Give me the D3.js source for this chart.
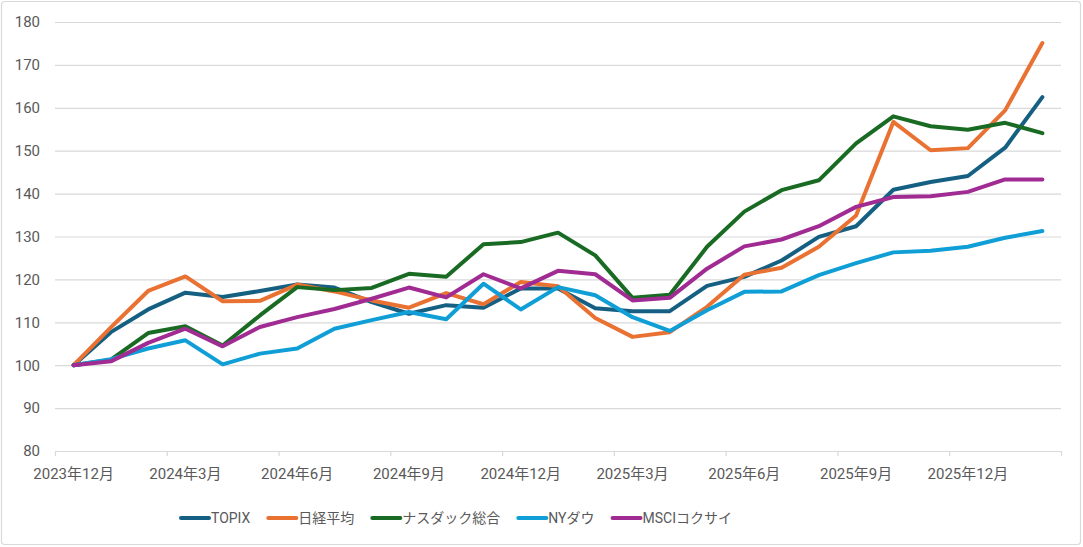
<!DOCTYPE html>
<html><head><meta charset="utf-8">
<script src="https://cdn.jsdelivr.net/npm/d3@7"></script>
<style>
html,body{margin:0;padding:0;background:#fff;}
svg{display:block;}
text{font-family:Roboto,"Noto Sans CJK JP",sans-serif;fill:#595959;}
</style></head>
<body>
<svg id="c" width="1083" height="547"></svg>
<script>
const months = ["2023年12月","2024年1月","2024年2月","2024年3月","2024年4月","2024年5月","2024年6月","2024年7月","2024年8月","2024年9月","2024年10月","2024年11月","2024年12月","2025年1月","2025年2月","2025年3月","2025年4月","2025年5月","2025年6月","2025年7月","2025年8月","2025年9月","2025年10月","2025年11月","2025年12月","2026年1月","2026年2月"];
const seriesNames = ["TOPIX","日経平均","ナスダック総合","NYダウ","MSCIコクサイ"];
const topix  = [100,107.7,113.0,116.9,115.9,117.3,118.8,118.1,114.7,112.0,114.0,113.4,117.9,117.9,113.3,112.6,112.6,118.5,120.6,124.4,129.9,132.4,140.9,142.7,144.1,150.7,162.5];
const nikkei = [100,108.8,117.3,120.7,114.9,115.0,118.8,117.2,115.1,113.4,116.8,114.2,119.4,118.4,111.0,106.6,107.7,113.6,121.1,122.7,127.6,134.9,156.7,150.1,150.6,159.4,175.1];
const nasdaq = [100,101.3,107.5,109.1,104.6,111.6,118.2,117.5,118.0,121.3,120.6,128.2,128.7,130.9,125.6,115.7,116.4,127.6,135.8,140.8,143.1,151.7,158.0,155.7,154.9,156.5,154.1];
const nydow  = [100,101.4,103.9,105.8,100.2,102.7,103.9,108.5,110.5,112.4,110.7,119.0,113.0,118.2,116.3,111.2,108.0,112.8,117.1,117.2,121.0,123.8,126.3,126.7,127.6,129.7,131.3];
const msci   = [100,100.9,105.2,108.5,104.4,108.9,111.2,113.1,115.5,118.1,115.8,121.2,117.9,122.0,121.2,115.1,115.7,122.5,127.7,129.3,132.4,136.9,139.2,139.4,140.4,143.3,143.3];
const yTicks = [80,90,100,110,120,130,140,150,160,170,180];
const colors = ["#156082","#E97132","#196B24","#0F9ED5","#A02B93"];
const seriesValues = [topix,nikkei,nasdaq,nydow,msci];

const svg = d3.select("#c");
const L=55, R=1061, T=22, B=451;

// chart border
svg.append("rect").attr("x",1.5).attr("y",1.5).attr("width",1079).attr("height",543)
  .attr("rx",3).attr("fill","#fff").attr("stroke","#d9d9d9").attr("stroke-width",1.2);

const x = d3.scaleBand().domain(months).range([L,R]).padding(0);
const xi = d3.scaleLinear().domain([0,months.length]).range([L,R]);
const y = d3.scaleLinear().domain([80,180]).range([B,T]);

// gridlines
const grid = svg.append("g").attr("transform",`translate(${L},0)`)
  .call(d3.axisLeft(y).tickValues(yTicks.filter(v=>v!==80)).tickSize(-(R-L)).tickFormat(""));
grid.select(".domain").remove();
grid.selectAll("line").attr("stroke","#d9d9d9").attr("stroke-width",1.2);

// y labels
const ya = svg.append("g").attr("transform",`translate(${L},0)`)
  .call(d3.axisLeft(y).tickValues(yTicks).tickSize(0).tickPadding(15));
ya.select(".domain").remove();
ya.selectAll("text").style("font-size","15px").attr("fill","#595959");

// x axis line + tick marks
const xt = svg.append("g").attr("transform",`translate(0,${B})`)
  .call(d3.axisBottom(xi).tickValues(d3.range(0,months.length+1,3)).tickSize(5).tickFormat("").tickSizeOuter(0));
xt.select(".domain").attr("stroke","#d9d9d9").attr("stroke-width",1.2);
xt.selectAll("line").attr("stroke","#d9d9d9").attr("stroke-width",1.2);

// x labels
const xa = svg.append("g").attr("transform",`translate(0,${B})`)
  .call(d3.axisBottom(x).tickValues(months.filter((m,i)=>i%3===0)).tickSize(0).tickPadding(17));
xa.select(".domain").remove();
xa.selectAll("text").style("font-size","15px").attr("fill","#595959");

// lines
const line = d3.line().x((d,i)=>x(months[i])+x.bandwidth()/2).y(d=>y(d));
seriesValues.forEach((vals,k)=>{
  svg.append("path").datum(vals).attr("d",line).attr("fill","none")
    .attr("stroke",colors[k]).attr("stroke-width",4).attr("stroke-linejoin","round").attr("stroke-linecap","round");
});

// legend
const lg = svg.append("g");
let cx = 0;
const items = [];
seriesNames.forEach((n,k)=>{
  const g = lg.append("g").attr("transform",`translate(${cx},0)`);
  g.append("line").attr("x1",1).attr("x2",29).attr("y1",0).attr("y2",0)
    .attr("stroke",colors[k]).attr("stroke-width",4).attr("stroke-linecap","round");
  const t = g.append("text").attr("x",31).attr("y",0).attr("dy","0.35em").style("font-size","14px").text(n);
  const w = t.node().getComputedTextLength();
  cx += 31 + w + 17;
});
const total = cx - 17;
lg.attr("transform",`translate(${456 - total/2},518)`);
</script>
</body></html>
